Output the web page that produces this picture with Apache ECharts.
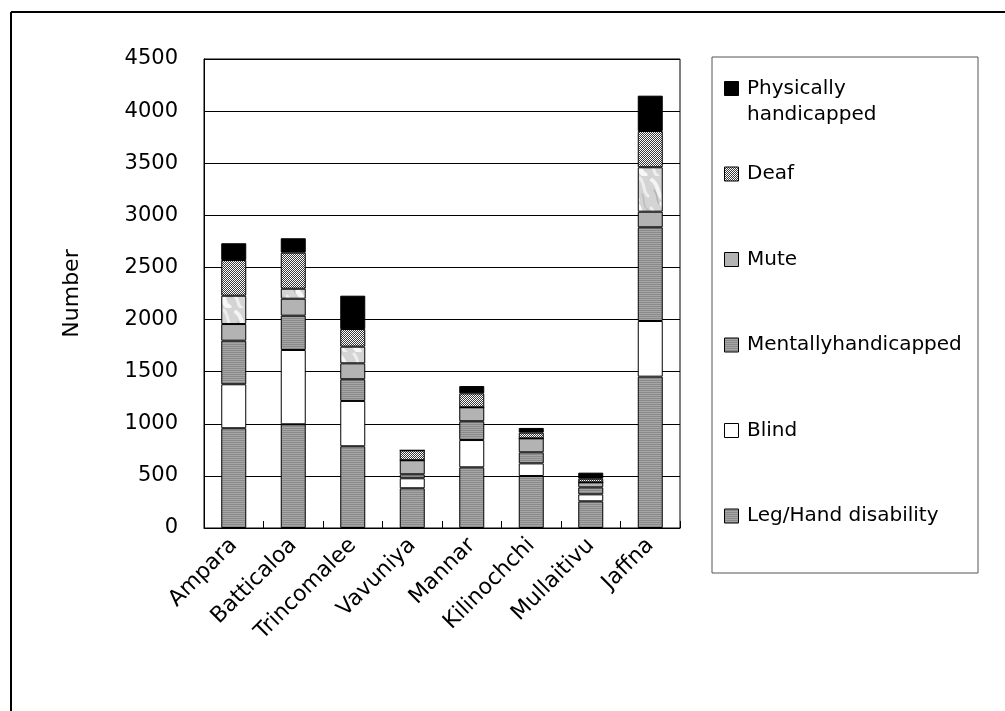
<!DOCTYPE html>
<html>
<head>
<meta charset="utf-8">
<script src="https://cdn.jsdelivr.net/npm/echarts@6/dist/echarts.min.js"></script>
<style>
  html, body { margin: 0; padding: 0; background: #fff; }
  #chart { width: 1005px; height: 711px; }
</style>
</head>
<body>
<div id="chart"></div>
<script>
// Districts on the category axis
const districts = ['Ampara', 'Batticaloa', 'Trincomalee', 'Vavuniya', 'Mannar', 'Kilinochchi', 'Mullaitivu', 'Jaffna'];

// Number of persons per disability type, stacked bottom to top
const legHand    = [957, 995, 784, 381, 582, 499, 256, 1452];
const blind      = [422, 713, 435, 96, 262, 121, 67, 534];
const mental     = [418, 329, 208, 38, 180, 106, 67, 899];
const mute       = [160, 163, 153, 135, 134, 134, 48, 150];
const unlisted   = [272, 96, 160, 0, 0, 0, 0, 426];
const deaf       = [342, 346, 169, 95, 134, 55, 35, 348];
const physical   = [161, 138, 320, 0, 70, 45, 58, 339];

// Value axis range
const yMin = 0, yMax = 4500, yStep = 500;

// Legend entries, top to bottom
const legendNames = ['Physically\nhandicapped', 'Deaf', 'Mute', 'Mentallyhandicapped', 'Blind', 'Leg/Hand disability'];

// ---- fill patterns ----
function makeCanvas(w, h, draw) {
  const c = document.createElement('canvas');
  c.width = w; c.height = h;
  draw(c.getContext('2d'), w, h);
  return c;
}
const stripeCanvas = makeCanvas(4, 2, (g, w) => {
  g.fillStyle = '#8a8a8a'; g.fillRect(0, 0, w, 1);
  g.fillStyle = '#a6a6a6'; g.fillRect(0, 1, w, 1);
});
const hatchCanvas = makeCanvas(4, 4, (g) => {
  g.fillStyle = '#ffffff'; g.fillRect(0, 0, 4, 4);
  g.fillStyle = '#3a3a3a';
  for (let i = 0; i < 4; i++) {
    g.fillRect((3 - i + 4) % 4, i, 1, 1);
    g.fillRect((1 - i + 8) % 4, i, 1, 1);
  }
});
const marbleCanvas = makeCanvas(26, 44, (g, w, h) => {
  g.fillStyle = '#d4d4d4'; g.fillRect(0, 0, w, h);
  g.lineCap = 'round';
  const strokes = [
    ['#f4f4f4', 4, [[2, 4], [10, 10], [6, 18], [14, 24]]],
    ['#ededed', 3, [[16, 2], [22, 9], [18, 15], [24, 20]]],
    ['#b4b4b4', 1.5, [[4, 14], [9, 20], [5, 26], [11, 30]]],
    ['#f7f7f7', 5, [[12, 28], [19, 34], [13, 39], [21, 43]]],
    ['#bdbdbd', 1.5, [[18, 18], [22, 24], [17, 29], [24, 34]]],
    ['#efefef', 3, [[1, 32], [6, 37], [2, 41], [8, 44]]]
  ];
  strokes.forEach(([col, lw, p]) => {
    g.strokeStyle = col; g.lineWidth = lw;
    g.beginPath(); g.moveTo(p[0][0], p[0][1]);
    g.bezierCurveTo(p[1][0], p[1][1], p[2][0], p[2][1], p[3][0], p[3][1]);
    g.stroke();
  });
});
const stripeFill = { image: stripeCanvas, repeat: 'repeat' };
const hatchFill = { image: hatchCanvas, repeat: 'repeat' };
const marbleFill = { image: marbleCanvas, repeat: 'repeat' };

const fills = {
  legHand: stripeFill, blind: '#ffffff', mental: stripeFill, mute: '#b3b3b3',
  unlisted: marbleFill, deaf: hatchFill, physical: '#000000'
};
const legendFills = [fills.physical, fills.deaf, fills.mute, fills.mental, fills.blind, fills.legHand];

const textFont = 'DejaVu Sans';

function barSeries(name, data, fill) {
  return {
    name: name,
    type: 'bar',
    stack: 'total',
    data: data,
    barWidth: 25,
    itemStyle: { color: fill, borderColor: '#000', borderWidth: 1 },
    emphasis: { disabled: true },
    animation: false
  };
}

// ---- legend box drawn as graphics ----
const legendGraphics = [{
  type: 'rect',
  shape: { x: 712, y: 57, width: 266, height: 516 },
  style: { fill: '#fff', stroke: '#555', lineWidth: 1 },
  z: 10
}];
const legendTop = 81, legendStep = 85.5;
legendNames.forEach((name, i) => {
  const y = legendTop + i * legendStep;
  legendGraphics.push({
    type: 'rect',
    shape: { x: 724.5, y: y + 0.5, width: 14, height: 14 },
    style: { fill: legendFills[i], stroke: '#000', lineWidth: 1 },
    z: 11
  });
  legendGraphics.push({
    type: 'text',
    x: 747, y: y + 7.5 - 13,
    style: {
      text: name, fill: '#000', font: '20px "' + textFont + '"',
      lineHeight: 26, verticalAlign: 'top', align: 'left'
    },
    z: 11
  });
});

// outer frame (top and left edges)
const frame = [
  { type: 'line', shape: { x1: 11, y1: 12, x2: 1005, y2: 12 }, style: { stroke: '#000', lineWidth: 2 }, z: 10 },
  { type: 'line', shape: { x1: 11, y1: 12, x2: 11, y2: 711 }, style: { stroke: '#000', lineWidth: 2 }, z: 10 }
];

const chart = echarts.init(document.getElementById('chart'), null, { renderer: 'canvas' });
chart.setOption({
  animation: false,
  backgroundColor: '#fff',
  grid: {
    left: 204, right: 325, top: 59, bottom: 183,
    show: true, borderColor: '#000', borderWidth: 1, backgroundColor: 'transparent'
  },
  xAxis: {
    type: 'category',
    data: districts,
    axisLine: { lineStyle: { color: '#000', width: 1 } },
    axisTick: { show: true, inside: true, length: 7, lineStyle: { color: '#000' } },
    axisLabel: {
      rotate: 45, interval: 0, margin: 14,
      color: '#000', fontFamily: textFont, fontSize: 22
    }
  },
  yAxis: {
    type: 'value',
    min: yMin, max: yMax, interval: yStep,
    name: 'Number',
    nameLocation: 'middle',
    nameGap: 121,
    nameRotate: 90,
    nameTextStyle: { color: '#000', fontFamily: textFont, fontSize: 22 },
    axisLine: { show: true, lineStyle: { color: '#000', width: 1 } },
    axisTick: { show: false },
    axisLabel: {
      color: '#000', fontFamily: textFont, fontSize: 21, margin: 26,
      formatter: v => String(v)
    },
    splitLine: { show: true, lineStyle: { color: '#000', width: 1 } }
  },
  series: [
    barSeries('Leg/Hand disability', legHand, fills.legHand),
    barSeries('Blind', blind, fills.blind),
    barSeries('Mentallyhandicapped', mental, fills.mental),
    barSeries('Mute', mute, fills.mute),
    barSeries('Unlisted', unlisted, fills.unlisted),
    barSeries('Deaf', deaf, fills.deaf),
    barSeries('Physically handicapped', physical, fills.physical)
  ],
  graphic: frame.concat(legendGraphics)
});
</script>
</body>
</html>
